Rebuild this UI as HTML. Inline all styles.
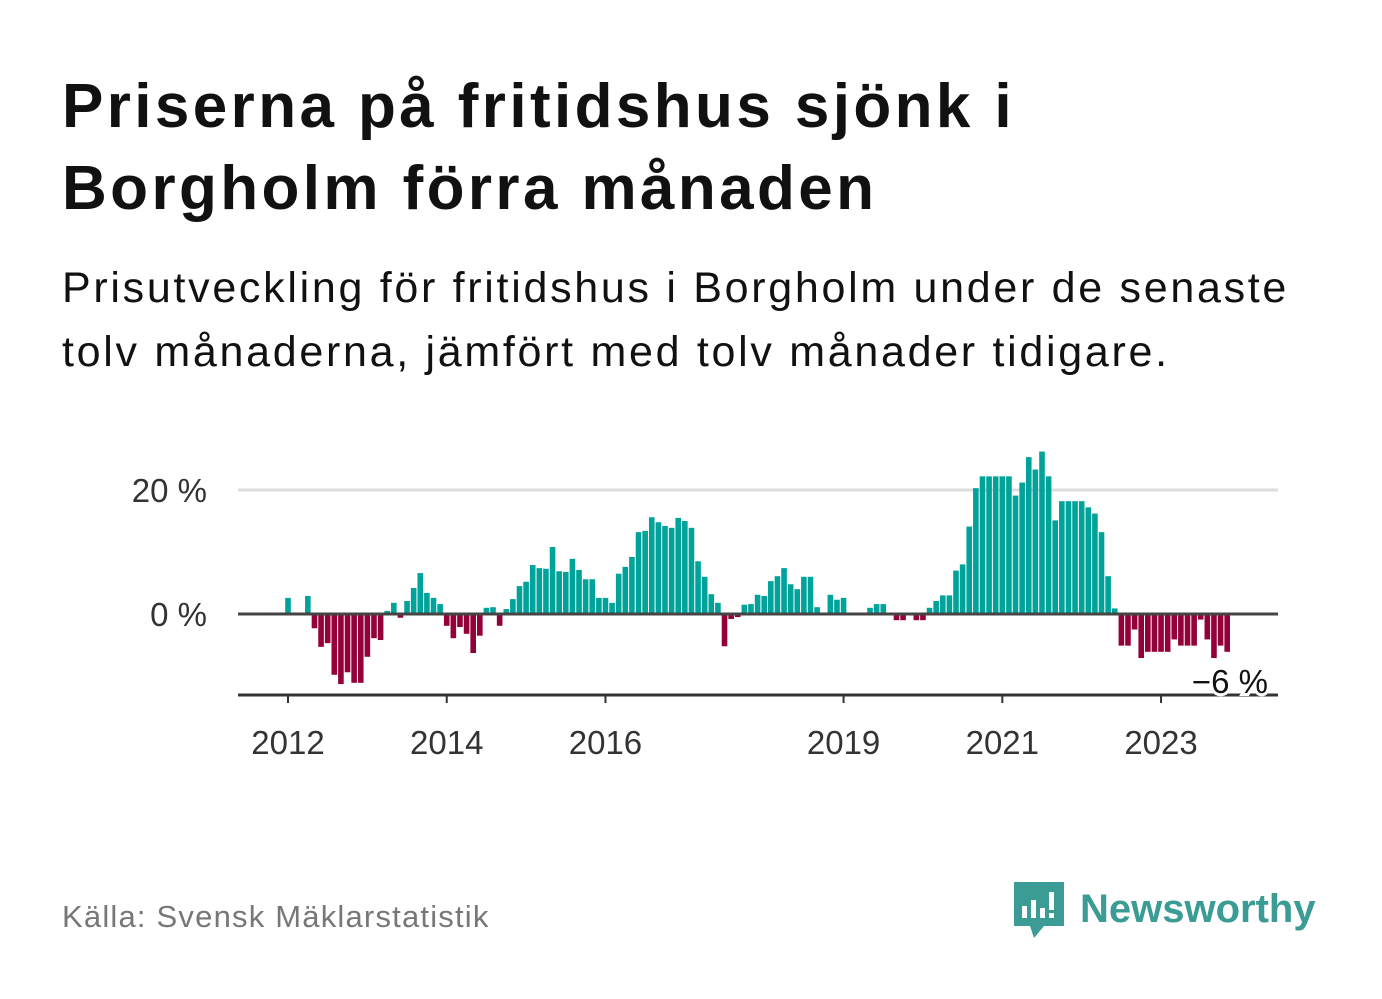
<!DOCTYPE html>
<html><head><meta charset="utf-8">
<style>
body{margin:0;width:1382px;height:999px;background:#fff;font-family:"Liberation Sans",sans-serif;overflow:hidden;position:relative}
h1{position:absolute;left:62px;top:66px;margin:0;font-size:62px;line-height:82px;font-weight:bold;color:#111;letter-spacing:3.4px}
.sub{position:absolute;left:62px;top:256px;margin:0;font-size:43px;line-height:64px;color:#111;letter-spacing:2.7px}
.src{position:absolute;left:62px;top:899px;font-size:31px;color:#777;letter-spacing:1.2px}
.logo{position:absolute;left:1010px;top:878px;display:flex;align-items:center}
.logo span{font-size:40px;font-weight:bold;color:#3a9c94;margin-left:10px}
</style></head><body>
<h1>Priserna på fritidshus sjönk i<br>Borgholm förra månaden</h1>
<p class="sub">Prisutveckling för fritidshus i Borgholm under de senaste<br>tolv månaderna, jämfört med tolv månader tidigare.</p>
<svg id="chart" width="1382" height="999" style="position:absolute;left:0;top:0"></svg>
<div class="src">Källa: Svensk Mäklarstatistik</div>
<div class="logo">
<svg width="60" height="62" viewBox="0 0 60 62"><path d="M4 4h50v44H34l-10 12-4-12H4z" fill="#3a9c94"/><rect x="12" y="28" width="5" height="12" fill="#fff"/><rect x="21" y="22" width="5" height="18" fill="#fff"/><rect x="30" y="30" width="5" height="10" fill="#fff"/><rect x="39" y="14" width="5" height="18" fill="#fff"/><rect x="39" y="35" width="5" height="5" fill="#fff"/></svg>
<span>Newsworthy</span></div>
<script>
const values=[2.6,null,null,2.9,-2.3,-5.3,-4.7,-9.8,-11.3,-9.4,-11.1,-11.1,
-6.9,-3.9,-4.2,0.5,1.8,-0.6,2.1,4.2,6.6,3.4,2.6,1.6,
-1.9,-3.9,-2.1,-3.2,-6.3,-3.5,1.0,1.1,-1.9,0.8,2.4,4.5,
5.2,7.9,7.4,7.3,10.8,6.9,6.8,8.9,7.1,5.6,5.6,2.6,
2.6,1.8,6.5,7.6,9.2,13.2,13.4,15.6,14.8,14.2,13.9,15.5,
15.0,13.9,8.5,6.0,3.2,1.8,-5.2,-0.8,-0.5,1.5,1.6,3.1,
2.9,5.3,6.1,7.4,4.8,4.0,6.0,6.0,1.1,null,3.1,2.3,
2.6,null,null,null,1.0,1.6,1.6,null,-1.0,-1.0,null,-1.0,
-1.0,1.0,2.1,3.0,3.0,7.0,8.0,14.1,20.3,22.2,22.2,22.2,
22.2,22.2,19.1,21.2,25.3,23.3,26.2,22.2,15.1,18.2,18.2,18.2,
18.2,17.2,16.2,13.2,6.1,0.9,-5.1,-5.1,-2.5,-7.1,-6.1,-6.1,
-6.1,-6.1,-4.1,-5.1,-5.1,-5.1,-0.9,-4.1,-7.1,-5.1,-6.1];
const startYear=2012;
const yTicks=[0,20];
const yearTicks=[2012,2014,2016,2019,2021,2023];
const lastLabel="−6 %";
const NS="http://www.w3.org/2000/svg";
const svg=document.getElementById('chart');
const x0=288,pitch=6.614,bw=5.6;
const xs=i=>x0+i*pitch;
const ys=v=>614-v*6.2;
function mk(t,a){const e=document.createElementNS(NS,t);for(const k in a)e.setAttribute(k,a[k]);svg.appendChild(e);return e;}
yTicks.forEach(v=>{
 if(v!==0){const g=mk('line',{x1:238,x2:1278,y1:ys(v),y2:ys(v),stroke:'#ddd','stroke-width':3});
 
 }
 const t=mk('text',{x:207,y:ys(v)+12,'text-anchor':'end','font-size':33,fill:'#333','font-family':'Liberation Sans, sans-serif'});
 t.textContent=v+' %';
 
 
});
values.forEach((v,i)=>{
 if(v===null)return;
 const r=mk('rect',{x:xs(i)-bw/2,y:v>=0?ys(v):ys(0),width:bw,height:Math.abs(ys(v)-ys(0)),fill:v>=0?'#00a39a':'#93003a'});
 
 
});
const z=mk('line',{x1:238,x2:1278,y1:ys(0),y2:ys(0),stroke:'#444','stroke-width':3});


const ax=mk('line',{x1:238,x2:1278,y1:695,y2:695,stroke:'#333','stroke-width':3});


yearTicks.forEach(y=>{
 const xp=xs((y-startYear)*12);
 const tk=mk('line',{x1:xp,x2:xp,y1:695,y2:703,stroke:'#333','stroke-width':2});
 
 
 const t=mk('text',{x:xp,y:754,'text-anchor':'middle','font-size':33,fill:'#333','font-family':'Liberation Sans, sans-serif'});
 t.textContent=y;
 
 
});
const lbl=mk('text',{x:1268,y:693,'text-anchor':'end','font-size':33,fill:'#111',stroke:'#fff','stroke-width':6,'paint-order':'stroke','font-family':'Liberation Sans, sans-serif'});
lbl.textContent=lastLabel;


</script>
</body></html>
